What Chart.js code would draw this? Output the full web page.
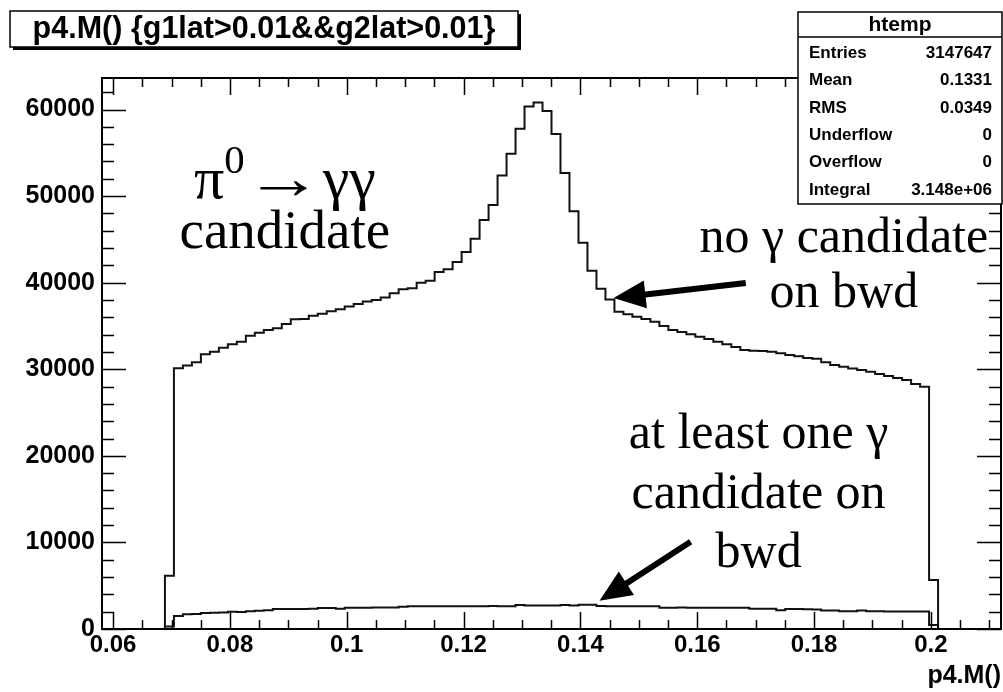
<!DOCTYPE html>
<html>
<head>
<meta charset="utf-8">
<script src="https://cdn.jsdelivr.net/npm/chart.js@4.4.1/dist/chart.umd.min.js"></script>
<style>
  html, body { margin: 0; padding: 0; background: #fff; }
  canvas { display: block; }
</style>
</head>
<body>
<canvas id="c" width="1003" height="692"></canvas>
<script>
// p4.M() histogram: 100 equal bins on [X_LOW, X_HIGH]
const N_BINS = 100;
const X_LOW = 0.0581;
const X_HIGH = 0.2120;
const FIRST_FILLED_BIN = 7;   // contents below start at this bin; all other bins are empty
const Y_MAX = 63640;

// no photon candidate on the backward side (bins 7 .. 92)
const noBwd = [
  6150,
  30110, 30420, 30800, 31730, 32030, 32490, 32880, 33180, 33880, 34220,
  34530, 34730, 35230, 35770, 35800, 36190, 36420, 36700, 36940, 37250,
  37550, 37820, 38000, 38300, 38770, 39230, 39350, 39990, 40220, 41230,
  41540, 42380, 43530, 45070, 47230, 48960, 52380, 54880, 57770, 60340,
  60800, 59820, 57180, 52680, 48260, 44610, 41380, 39300, 38070, 36640,
  36350, 36070, 35800, 35490, 35000, 34530, 34300, 34050, 33760, 33500,
  33190, 32900, 32560, 32230, 32150, 32100, 32030, 31850, 31650, 31500,
  31300, 31200, 30800, 30490, 30300, 30100, 29910, 29700, 29450, 29220,
  29000, 28760, 28300, 27990,
  5650
];

// at least one photon candidate on the backward side (bins 7 .. 92)
const withBwd = [
  300,
  1500, 1700, 1720, 1850, 1880, 1900, 2000, 1960, 2050, 2100,
  2180, 2300, 2300, 2320, 2320, 2340, 2420, 2430, 2340, 2450,
  2460, 2460, 2470, 2470, 2480, 2560, 2620, 2630, 2630, 2640,
  2630, 2640, 2630, 2640, 2630, 2650, 2640, 2640, 2760, 2720,
  2700, 2700, 2700, 2780, 2720, 2790, 2790, 2650, 2640, 2640,
  2640, 2630, 2640, 2640, 2460, 2460, 2470, 2460, 2460, 2450,
  2460, 2460, 2450, 2460, 2340, 2340, 2340, 2180, 2300, 2300,
  2280, 2250, 2150, 2150, 2050, 2050, 2150, 2050, 2040, 2030,
  2030, 2030, 2030, 2030,
  450
];

const xTickValues = [0.06, 0.08, 0.10, 0.12, 0.14, 0.16, 0.18, 0.20];
const xTickLabels = ['0.06', '0.08', '0.1', '0.12', '0.14', '0.16', '0.18', '0.2'];
const yTickValues = [0, 10000, 20000, 30000, 40000, 50000, 60000];
const yTickLabels = ['0', '10000', '20000', '30000', '40000', '50000', '60000'];

const histTitle = 'p4.M() {g1lat>0.01&&g2lat>0.01}';
const statsName = 'htemp';
const statsRows = [
  ['Entries', '3147647'],
  ['Mean', '0.1331'],
  ['RMS', '0.0349'],
  ['Underflow', '0'],
  ['Overflow', '0'],
  ['Integral', '3.148e+06']
];

// Text notes and arrows, anchored in data coordinates (x, baseline y)
const notes = [
  { x: 0.0894, y: 49750, size: 60,
    segs: [{ t: 'π' }, { t: '0', sup: true }, { t: '→', width: 78 }, { t: 'γγ' }] },
  { x: 0.0894, y: 44000, size: 55, segs: [{ t: 'candidate' }] },
  { x: 0.1851, y: 43600, size: 50, segs: [{ t: 'no γ candidate' }] },
  { x: 0.1851, y: 37222, size: 50, segs: [{ t: 'on bwd' }] },
  { x: 0.1705, y: 20920, size: 50, segs: [{ t: 'at least one γ' }] },
  { x: 0.1705, y: 13996, size: 50, segs: [{ t: 'candidate on' }] },
  { x: 0.1705, y: 7189,  size: 50, segs: [{ t: 'bwd' }] }
];
const arrows = [
  { from: [0.1683, 39956], to: [0.14567, 38225] },
  { from: [0.15887, 10073], to: [0.14327, 3265] }
];

const BIN_W = (X_HIGH - X_LOW) / N_BINS;
function histPoints(values) {
  const pts = [{ x: X_LOW + FIRST_FILLED_BIN * BIN_W, y: 0 }];
  values.forEach((v, i) => pts.push({ x: X_LOW + (FIRST_FILLED_BIN + i) * BIN_W, y: v }));
  pts.push({ x: X_LOW + (FIRST_FILLED_BIN + values.length) * BIN_W, y: 0 });
  return pts;
}

const SANS = '"Liberation Sans", Arial, Helvetica, sans-serif';
const SERIF = '"Liberation Serif", "Times New Roman", Times, serif';

// centred run of serif text; superscripts are smaller and raised,
// a segment with a width is stretched horizontally to that width
function drawRich(ctx, segs, cx, baseline, size) {
  const parts = segs.map(s => {
    const sz = s.sup ? size * 0.68 : size;
    ctx.font = sz + 'px ' + SERIF;
    const natural = ctx.measureText(s.t).width;
    const w = s.width || natural;
    return { t: s.t, sz, w, sx: w / natural, dy: s.sup ? -size * 0.42 : 0 };
  });
  const total = parts.reduce((a, p) => a + p.w, 0);
  let x = cx - total / 2;
  ctx.textAlign = 'left';
  ctx.textBaseline = 'alphabetic';
  parts.forEach(p => {
    ctx.font = p.sz + 'px ' + SERIF;
    ctx.save();
    ctx.translate(x, baseline + p.dy);
    ctx.scale(p.sx, 1);
    ctx.fillText(p.t, 0, 0);
    ctx.restore();
    x += p.w;
  });
}

function drawArrow(ctx, x0, y0, x1, y1) {
  const ang = Math.atan2(y1 - y0, x1 - x0);
  const headLen = 32, headHalf = 14;
  const bx = x1 - headLen * Math.cos(ang), by = y1 - headLen * Math.sin(ang);
  ctx.lineWidth = 6;
  ctx.lineCap = 'butt';
  ctx.beginPath();
  ctx.moveTo(x0, y0);
  ctx.lineTo(bx + 2 * Math.cos(ang), by + 2 * Math.sin(ang));
  ctx.stroke();
  ctx.beginPath();
  ctx.moveTo(x1, y1);
  ctx.lineTo(bx - headHalf * Math.sin(ang), by + headHalf * Math.cos(ang));
  ctx.lineTo(bx + headHalf * Math.sin(ang), by - headHalf * Math.cos(ang));
  ctx.closePath();
  ctx.fill();
}

const rootFrame = {
  id: 'rootFrame',
  afterDatasetsDraw(chart) {
    const { ctx, chartArea: a, scales: { x, y } } = chart;
    ctx.save();
    ctx.strokeStyle = '#000';
    ctx.fillStyle = '#000';

    // frame
    ctx.lineWidth = 2;
    ctx.strokeRect(a.left, a.top, a.right - a.left, a.bottom - a.top);

    // inward ticks on all four sides
    ctx.lineWidth = 1.5;
    ctx.beginPath();
    const kx0 = Math.ceil(X_LOW / 0.005 - 1e-9), kx1 = Math.floor(X_HIGH / 0.005 + 1e-9);
    for (let k = kx0; k <= kx1; k++) {
      const px = Math.round(x.getPixelForValue(k * 0.005)) + 0.5;
      const len = (k % 4 === 0) ? 17 : 9;
      ctx.moveTo(px, a.bottom); ctx.lineTo(px, a.bottom - len);
      ctx.moveTo(px, a.top); ctx.lineTo(px, a.top + len);
    }
    const ky1 = Math.floor(Y_MAX / 2000);
    for (let k = 0; k <= ky1; k++) {
      const py = Math.round(y.getPixelForValue(k * 2000)) + 0.5;
      const len = (k % 5 === 0) ? 24 : 12;
      ctx.moveTo(a.left, py); ctx.lineTo(a.left + len, py);
      ctx.moveTo(a.right, py); ctx.lineTo(a.right - len, py);
    }
    ctx.stroke();

    // notes
    notes.forEach(n => {
      drawRich(ctx, n.segs, x.getPixelForValue(n.x), y.getPixelForValue(n.y), n.size);
    });
    arrows.forEach(ar => {
      drawArrow(ctx, x.getPixelForValue(ar.from[0]), y.getPixelForValue(ar.from[1]),
                     x.getPixelForValue(ar.to[0]), y.getPixelForValue(ar.to[1]));
    });

    // title box with shadow
    const tb = { l: 10, t: 11, r: 518, b: 47 };
    ctx.fillStyle = '#000';
    ctx.fillRect(tb.l + 3, tb.t + 3, tb.r - tb.l, tb.b - tb.t);
    ctx.fillStyle = '#fff';
    ctx.fillRect(tb.l, tb.t, tb.r - tb.l, tb.b - tb.t);
    ctx.lineWidth = 1.5;
    ctx.strokeRect(tb.l, tb.t, tb.r - tb.l, tb.b - tb.t);
    ctx.fillStyle = '#000';
    ctx.font = 'bold 30.5px ' + SANS;
    ctx.textAlign = 'center';
    ctx.textBaseline = 'middle';
    ctx.fillText(histTitle, (tb.l + tb.r) / 2, (tb.t + tb.b) / 2 + 1);

    // statistics box
    const sb = { l: 798, t: 12, r: 1002, b: 204, sep: 37 };
    ctx.fillStyle = '#fff';
    ctx.fillRect(sb.l, sb.t, sb.r - sb.l, sb.b - sb.t);
    ctx.strokeRect(sb.l, sb.t, sb.r - sb.l, sb.b - sb.t);
    ctx.beginPath();
    ctx.moveTo(sb.l, sb.sep); ctx.lineTo(sb.r, sb.sep);
    ctx.stroke();
    ctx.fillStyle = '#000';
    ctx.font = 'bold 21px ' + SANS;
    ctx.textAlign = 'center';
    ctx.fillText(statsName, (sb.l + sb.r) / 2, 25);
    ctx.font = 'bold 17px ' + SANS;
    statsRows.forEach((r, i) => {
      const ry = 53.5 + i * 27.3;
      ctx.textAlign = 'left';
      ctx.fillText(r[0], 809, ry);
      ctx.textAlign = 'right';
      ctx.fillText(r[1], 992, ry);
    });
    ctx.restore();
  }
};

Chart.defaults.font.family = SANS;
Chart.defaults.color = '#000';

new Chart(document.getElementById('c'), {
  type: 'line',
  data: {
    datasets: [
      { data: histPoints(noBwd), stepped: 'before', borderColor: '#111', borderWidth: 2,
        pointRadius: 0, fill: false, tension: 0 },
      { data: histPoints(withBwd), stepped: 'before', borderColor: '#111', borderWidth: 2,
        pointRadius: 0, fill: false, tension: 0 }
    ]
  },
  options: {
    responsive: false,
    animation: false,
    events: [],
    layout: { padding: { top: 78, right: 2, left: 0, bottom: 0 } },
    plugins: { legend: { display: false }, tooltip: { enabled: false }, title: { display: false } },
    scales: {
      x: {
        type: 'linear',
        min: X_LOW,
        max: X_HIGH,
        grid: { display: false, drawTicks: false },
        border: { display: false },
        afterBuildTicks: s => { s.ticks = xTickValues.map(v => ({ value: v })); },
        afterFit: s => { s.height = 63; },
        ticks: {
          autoSkip: false, maxRotation: 0, padding: 2,
          font: { size: 24, weight: 'bold' },
          callback: (v, i) => xTickLabels[i]
        },
        title: {
          display: true, text: 'p4.M()', align: 'end',
          font: { size: 25, weight: 'bold' }, padding: { top: 0, bottom: 1 }
        }
      },
      y: {
        type: 'linear',
        min: 0,
        max: Y_MAX,
        grid: { display: false, drawTicks: false },
        border: { display: false },
        afterBuildTicks: s => { s.ticks = yTickValues.map(v => ({ value: v })); },
        afterFit: s => { s.width = 102; },
        ticks: {
          autoSkip: false, padding: 7,
          font: { size: 25, weight: 'bold' },
          callback: (v, i) => yTickLabels[i]
        }
      }
    }
  },
  plugins: [rootFrame]
});
</script>
</body>
</html>
